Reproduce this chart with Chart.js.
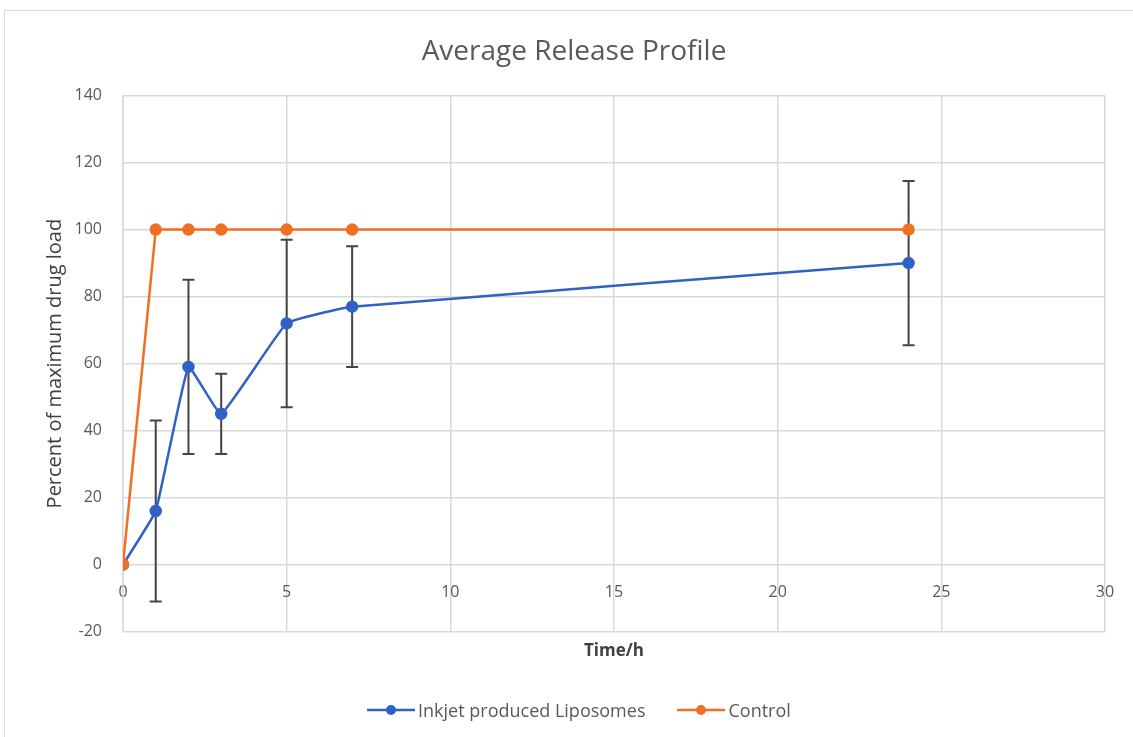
<!DOCTYPE html>
<html>
<head>
<meta charset="utf-8">
<script src="https://cdn.jsdelivr.net/npm/chart.js@4"></script>
<style>
  html, body { margin: 0; padding: 0; background: #fff; }
  #frame { position: absolute; left: 4px; top: 10px; width: 1140px; height: 740px; border: 1px solid #d9d9d9; box-sizing: border-box; }
  #wrap { position: absolute; left: 0; top: 0; width: 1133px; height: 737px; }
  #legend { position: absolute; left: 367px; top: 697px; display: flex; align-items: center;
            font-family: "Open Sans", sans-serif; font-size: 18px; color: #595959; line-height: 26px; }
  #legend .item { display: flex; align-items: center; margin-right: 32px; }
  #legend canvas { margin-right: 3px; }
</style>
</head>
<body>
<div id="frame"></div>
<div id="wrap"><canvas id="myChart"></canvas></div>
<div id="legend"></div>
<script>
const timeHours = [0, 1, 2, 3, 5, 7, 24];
const liposomes = [0, 16, 59, 45, 72, 77, 90];
const liposomesErr = [0, 27, 26, 12, 25, 18, 24.5];
const control = [0, 100, 100, 100, 100, 100, 100];
const seriesNames = ['Inkjet produced Liposomes', 'Control'];
const xTicks = [0, 5, 10, 15, 20, 25, 30];
const yTicks = [-20, 0, 20, 40, 60, 80, 100, 120, 140];

const blue = '#3062c6';
const orange = '#ef7022';
const textGrey = '#595959';
const gridGrey = '#d9d9d9';
const fontName = '"Open Sans", sans-serif';

function legendIcon(color) {
  const c = document.createElement('canvas');
  c.width = 48; c.height = 14;
  const g = c.getContext('2d');
  g.strokeStyle = color; g.lineWidth = 2.5;
  g.beginPath(); g.moveTo(0, 7); g.lineTo(48, 7); g.stroke();
  g.fillStyle = color;
  g.beginPath(); g.arc(24, 7, 5, 0, Math.PI * 2); g.fill();
  return c;
}

// error bars drawn through the chart's own scales
const errorBars = {
  id: 'errorBars',
  beforeDatasetsDraw(chart) {
    const ctx = chart.ctx;
    const xs = chart.scales.x, ys = chart.scales.y;
    ctx.save();
    ctx.strokeStyle = '#444444';
    ctx.lineWidth = 2;
    timeHours.forEach((t, i) => {
      const e = liposomesErr[i];
      if (!e) return;
      const px = xs.getPixelForValue(t);
      const top = ys.getPixelForValue(liposomes[i] + e);
      const bot = ys.getPixelForValue(liposomes[i] - e);
      ctx.beginPath();
      ctx.moveTo(px, top); ctx.lineTo(px, bot);
      ctx.moveTo(px - 6, top); ctx.lineTo(px + 6, top);
      ctx.moveTo(px - 6, bot); ctx.lineTo(px + 6, bot);
      ctx.stroke();
    });
    ctx.restore();
  }
};

const ctx = document.getElementById('myChart').getContext('2d');
const chart = new Chart(ctx, {
  type: 'line',
  data: {
    datasets: [
      {
        label: seriesNames[0],
        data: timeHours.map((t, i) => ({ x: t, y: liposomes[i] })),
        borderColor: blue, backgroundColor: blue,
        borderWidth: 2.5, pointRadius: 5, pointHoverRadius: 5,
        tension: 0.1, order: 1
      },
      {
        label: seriesNames[1],
        data: timeHours.map((t, i) => ({ x: t, y: control[i] })),
        borderColor: orange, backgroundColor: orange,
        borderWidth: 2.5, pointRadius: 5, pointHoverRadius: 5,
        tension: 0, order: 0
      }
    ]
  },
  options: {
    responsive: true,
    maintainAspectRatio: false,
    animation: false,
    layout: { padding: { left: 43, right: 28, top: 26, bottom: 74 } },
    plugins: {
      title: {
        display: true,
        text: 'Average Release Profile',
        color: textGrey,
        font: { family: fontName, size: 28, weight: 'normal' },
        padding: { top: 9, bottom: 27 }
      },
      legend: { display: false },
      tooltip: { enabled: false }
    },
    scales: {
      x: {
        type: 'linear',
        position: { y: 0 },
        min: 0, max: 30,
        afterBuildTicks(axis) { axis.ticks = xTicks.map(v => ({ value: v })); },
        ticks: { color: textGrey, font: { family: fontName, size: 16 }, padding: 18 },
        grid: { color: gridGrey, lineWidth: 1.5, drawTicks: false },
        border: { display: false }
      },
      xTitle: {
        type: 'linear',
        position: 'bottom',
        min: 0, max: 30,
        ticks: { display: false },
        grid: { display: false, drawTicks: false },
        border: { display: false },
        title: {
          display: true, text: 'Time/h', color: '#404040',
          font: { family: fontName, size: 17, weight: 'bold' },
          padding: { top: 9, bottom: 2 }
        }
      },
      y: {
        min: -20, max: 140,
        afterBuildTicks(axis) { axis.ticks = yTicks.map(v => ({ value: v })); },
        afterFit(axis) { axis.width = 80; },
        ticks: { color: textGrey, font: { family: fontName, size: 16 }, padding: 21 },
        grid: { color: gridGrey, lineWidth: 1.5, drawTicks: false },
        border: { color: gridGrey, width: 1.5 },
        title: {
          display: true, text: 'Percent of maximum drug load', color: '#404040',
          font: { family: fontName, size: 20 },
          padding: { top: 0, bottom: 0 }
        }
      }
    }
  },
  plugins: [errorBars]
});

// legend built from the chart's datasets
const legendBox = document.getElementById('legend');
chart.data.datasets.forEach(ds => {
  const item = document.createElement('div');
  item.className = 'item';
  item.appendChild(legendIcon(ds.borderColor));
  const span = document.createElement('span');
  span.textContent = ds.label;
  item.appendChild(span);
  legendBox.appendChild(item);
});
</script>
</body>
</html>
